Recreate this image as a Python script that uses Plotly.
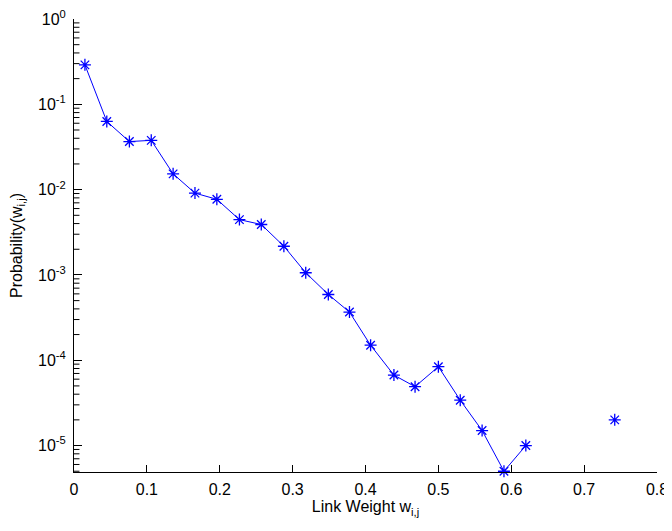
import plotly.graph_objects as go

# Link weight bins (x) and probability (y); None marks empty bins (gap in line)
weights = [0.015, 0.045, 0.076, 0.106, 0.136, 0.166, 0.196, 0.227, 0.257, 0.288,
           0.318, 0.349, 0.378, 0.407, 0.439, 0.468, 0.500, 0.530, 0.560, 0.590,
           0.620, 0.651, 0.681, 0.712, 0.742]
probs = [0.29, 0.063, 0.0366, 0.0378, 0.0153, 0.0091, 0.0077, 0.00445, 0.0039, 0.00217,
         0.00106, 0.00059, 0.000367, 0.00015, 0.000067, 0.000049, 0.000084, 0.000034,
         0.000015, 0.0000050, 0.00001, None, None, None, 0.00002]

x_ticks = [0, 0.1, 0.2, 0.3, 0.4, 0.5, 0.6, 0.7, 0.8]
x_ticklabels = ["0", "0.1", "0.2", "0.3", "0.4", "0.5", "0.6", "0.7", "0.8"]
y_ticks = [1, 1e-1, 1e-2, 1e-3, 1e-4, 1e-5]
y_ticklabels = ["10<sup>0</sup>", "10<sup>-1</sup>", "10<sup>-2</sup>",
                "10<sup>-3</sup>", "10<sup>-4</sup>", "10<sup>-5</sup>"]
y_minor = [m * 10.0 ** e for e in range(-6, 0) for m in range(2, 10)]

font = dict(family="Liberation Sans, Arial, sans-serif", size=16, color="black")
y_range = [-5.31, 0]
minor_len = 0.0075  # length of minor tick marks in x units (style)

# minor log ticks drawn as short black segments along the left axis
mx, my = [], []
for v in y_minor:
    if v >= 10 ** y_range[0]:
        mx += [0, minor_len, None]
        my += [v, v, None]

fig = go.Figure()
fig.add_trace(go.Scatter(
    x=mx, y=my, mode="lines", line=dict(color="black", width=1),
    hoverinfo="skip", showlegend=False, cliponaxis=False,
))
fig.add_trace(go.Scatter(
    x=weights, y=probs, mode="lines+markers",
    line=dict(color="#0000FF", width=1),
    marker=dict(symbol="asterisk-open", size=10, color="#0000FF",
                line=dict(color="#0000FF", width=1.3)),
    connectgaps=False, showlegend=False, cliponaxis=False,
))

# page body has an 8px default margin, so the figure is sized to fit inside it
fig.update_layout(
    width=664, height=523,
    margin=dict(l=66, r=15, t=11, b=59),
    paper_bgcolor="white", plot_bgcolor="white",
    font=font,
)
fig.update_xaxes(
    range=[0, 0.8], tickvals=x_ticks, ticktext=x_ticklabels, automargin=False,
    ticks="inside", ticklen=7, tickwidth=1, tickcolor="black", showgrid=False,
    zeroline=False, showline=True, linecolor="black", linewidth=1,
    ticklabelstandoff=3, ticklabeloverflow="allow",
    title=dict(text="Link Weight w<sub>i,j</sub>", standoff=2, font=font),
    tickfont=font,
)
fig.update_yaxes(
    type="log", range=y_range, tickvals=y_ticks, ticktext=y_ticklabels,
    automargin=False, ticklabelstandoff=4, ticklabeloverflow="allow",
    ticks="inside", ticklen=8, tickwidth=1, tickcolor="black", showgrid=False,
    zeroline=False, showline=True, linecolor="black", linewidth=1,
    title=dict(text="Probability(w<sub>i,j</sub>)", standoff=12, font=font),
    tickfont=font,
)

fig.write_html("out.html")
